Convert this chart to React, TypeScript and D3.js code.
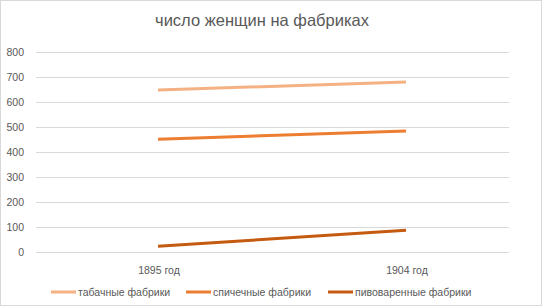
import React from "react";
import * as d3 from "d3";

const categories = ["1895 год", "1904 год"];
const seriesNames = ["табачные фабрики", "спичечные фабрики", "пивоваренные фабрики"];
const tobacco = [648, 680];
const matches = [451, 484];
const brewery = [23, 87];
const yTicks = [0, 100, 200, 300, 400, 500, 600, 700, 800];
const title = "число женщин на фабриках";

const W = 542;
const H = 306;
const colors = ["#F4B183", "#ED7D31", "#C55A11"];
const textColor = "#595959";
const font = "'Liberation Sans', Arial, sans-serif";

export default function App() {
  const series = [tobacco, matches, brewery];
  const y = d3.scaleLinear().domain([0, 800]).range([252, 52]);
  const x = d3.scalePoint<string>().domain(categories).range([158, 406]);
  const line = d3
    .line<number>()
    .x((_, i) => x(categories[i]) as number)
    .y((d) => y(d));

  const legendX = [51, 186, 328];

  return (
    <svg
      width={W}
      height={H}
      style={{ position: "absolute", left: 0, top: 0, background: "#fff" }}
      fontFamily={font}
    >
      <rect x={0.5} y={0.5} width={W - 1} height={H - 1} fill="#fff" stroke="#D9D9D9" />
      <text x={262} y={26} textAnchor="middle" fontSize={16.5} fill={textColor}>
        {title}
      </text>
      {yTicks.map((t) => (
        <g key={t}>
          <line x1={36} x2={509} y1={Math.round(y(t)) + 0.5} y2={Math.round(y(t)) + 0.5} stroke="#D9D9D9" strokeWidth={1} />
          <text x={24} y={y(t) + 4} textAnchor="end" fontSize={10.5} fill={textColor}>
            {t}
          </text>
        </g>
      ))}
      {categories.map((c) => (
        <text key={c} x={(x(c) as number) + 1} y={274} textAnchor="middle" fontSize={10.5} fill={textColor}>
          {c}
        </text>
      ))}
      {series.map((s, i) => (
        <path key={i} d={line(s) || ""} fill="none" stroke={colors[i]} strokeWidth={3} strokeLinecap="butt" />
      ))}
      {seriesNames.map((n, i) => (
        <g key={n}>
          <line x1={legendX[i]} x2={legendX[i] + 25} y1={292} y2={292} stroke={colors[i]} strokeWidth={3} />
          <text x={legendX[i] + 27} y={295.5} fontSize={10.5} fill={textColor}>
            {n}
          </text>
        </g>
      ))}
    </svg>
  );
}
